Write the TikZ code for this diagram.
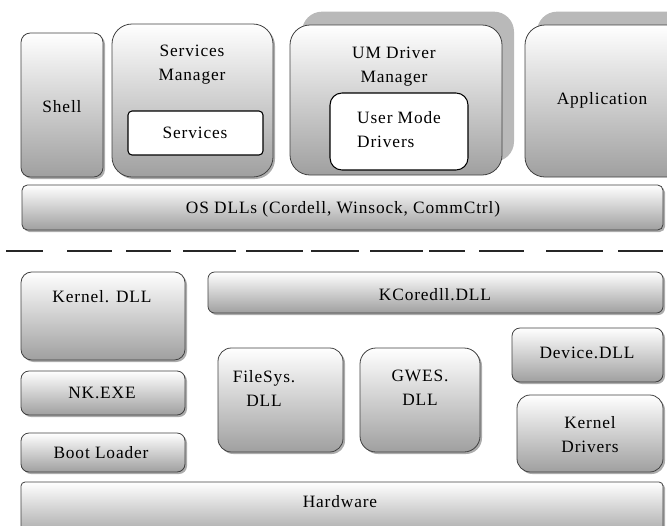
\documentclass[tikz,border=0pt]{standalone}
\usepackage{fontspec}
\setmainfont{Liberation Serif}[LetterSpace=5]
\usetikzlibrary{fit,shadows}

\tikzset{
  blk/.style={draw=black!75, line width=0.6pt, inner sep=0pt,
    top color=white, bottom color=gray!75, rounded corners=#1,
    drop shadow={shadow xshift=1.5pt, shadow yshift=-1.5pt, fill=gray!65, opacity=1}},
  blk/.default=6pt,
  bigblk/.style={draw=black!75, line width=0.6pt, inner sep=0pt,
    top color=white, bottom color=gray!75, rounded corners=#1,
    drop shadow={shadow xshift=9pt, shadow yshift=10pt, fill=gray!55, opacity=1}},
  inbox/.style={draw=black, line width=0.8pt, fill=white, inner sep=0pt, rounded corners=#1},
  txt/.style={align=center, inner sep=0pt}
}

\begin{document}
\begin{tikzpicture}[x=0.75pt, y=-0.75pt, font=\fontsize{13}{18}\selectfont]
		\useasboundingbox (0,0) rectangle (667,525);
		% user mode
		\node [blk=7pt, fit={(21,33) (103,177)}] (shell) {};
		\node [txt] (shelltxt) at (62,107) {Shell};
		\node [blk=15pt, fit={(112,24) (273,177)}] (svcmgr) {};
		\node [txt] (svcmgrtxt) at (192,65) {Services\\Manager};
		\node [inbox=3pt, fit={(128,111) (263,155)}] (svc) {};
		\node [txt] (svctxt) at (195,133) {Services};
		\node [bigblk=15pt, fit={(290,25) (502,175)}] (umdm) {};
		\node [txt] (umdmtxt) at (394,67) {UM Driver\\Manager};
		\node [inbox=9pt, fit={(330,93) (468,170)}] (umd) {};
		\node [txt, align=left] (umdtxt) at (399,130) {User Mode\\Drivers};
		\node [bigblk=15pt, fit={(525,25) (690,177)}] (app) {};
		\node [txt] (apptxt) at (602,100) {Application};
		\node [blk=4pt, fit={(22,185) (663,230)}] (osdll) {};
		\node [txt] (osdlltxt) at (343,209) {OS DLLs (Cordell, Winsock, CommCtrl)};
		% граница
		\foreach \a/\b in {6/43, 67/112, 126/171, 183/236, 246/303, 311/359,
			370/423, 429/465, 479/524, 546/603, 618/663}
			\draw [line width=1.2pt, black!85] (\a,251) -- (\b,251);
		% kernel mode
		\node [blk=8pt, fit={(21,272) (185,360)}] (kdll) {};
		\node [txt] (kdlltxt) at (102,297) {Kernel. DLL};
		\node [blk=6pt, fit={(21,371) (185,415)}] (nk) {};
		\node [txt] (nktxt) at (102,393) {NK.EXE};
		\node [blk=6pt, fit={(21,433) (185,472)}] (boot) {};
		\node [txt] (boottxt) at (101,453) {Boot Loader};
		\node [blk=5pt, fit={(208,272) (663,313)}] (kcore) {};
		\node [txt] (kcoretxt) at (435,295) {KCoredll.DLL};
		\node [blk=10pt, fit={(218,348) (343,452)}] (fsys) {};
		\node [txt] (fsystxt) at (264,388) {FileSys.\\DLL};
		\node [blk=12pt, fit={(360,348) (480,452)}] (gwes) {};
		\node [txt] (gwestxt) at (420,388) {GWES.\\DLL};
		\node [blk=6pt, fit={(512,328) (663,382)}] (dev) {};
		\node [txt] (devtxt) at (587,353) {Device.DLL};
		\node [blk=10pt, fit={(517,395) (663,472)}] (kdrv) {};
		\node [txt] (kdrvtxt) at (590,435) {Kernel\\Drivers};
		\node [blk=3pt, fit={(21,482) (663,540)}] (hw) {};
		\node [txt] (hwtxt) at (340,502) {Hardware};
\end{tikzpicture}
\end{document}
